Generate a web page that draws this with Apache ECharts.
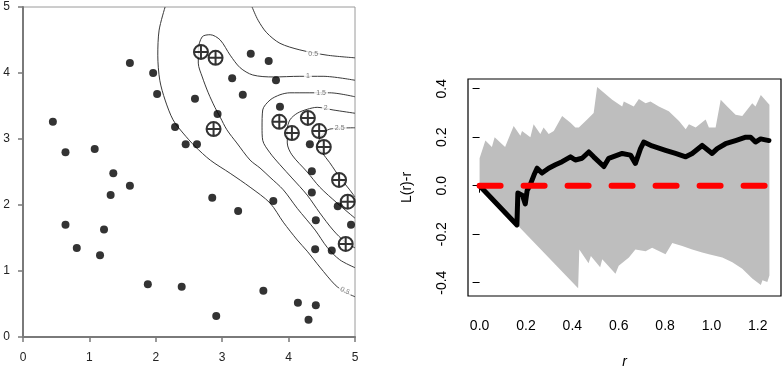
<!DOCTYPE html>
<html>
<head>
<meta charset="utf-8">
<script src="https://cdn.jsdelivr.net/npm/echarts@6/dist/echarts.min.js"></script>
<style>html,body{margin:0;padding:0;background:#fff}#c{width:784px;height:374px}</style>
</head>
<body>
<div id="c"></div>
<script>
// ---------- Left panel data ----------
const leftTicks = [0, 1, 2, 3, 4, 5];
const dots = [
  [0.45,3.26],[0.64,2.80],[1.08,2.85],[1.36,2.48],[1.61,2.29],[1.61,4.15],[1.96,4.00],
  [2.02,3.68],[2.29,3.18],[2.45,2.92],[2.62,2.92],[0.64,1.70],[0.81,1.35],[1.16,1.24],
  [1.22,1.63],[1.32,2.15],[1.88,0.80],[2.39,0.76],[3.43,4.29],[3.70,4.18],[3.15,3.92],
  [3.81,3.89],[2.59,3.61],[3.31,3.67],[2.93,3.38],[3.87,3.49],[4.32,2.92],[4.35,2.51],
  [4.74,1.98],[4.35,2.19],[4.41,1.77],[4.94,1.70],[4.40,1.33],[4.65,1.31],[2.85,2.11],
  [3.24,1.91],[3.77,2.06],[3.62,0.70],[4.14,0.52],[4.41,0.48],[4.30,0.26],[2.91,0.32]
];
const crossed = [
  [2.68,4.32],[2.90,4.23],[2.87,3.15],[3.86,3.26],[4.05,3.09],[4.29,3.32],
  [4.46,3.12],[4.53,2.88],[4.76,2.38],[4.89,2.05],[4.86,1.41]
];
const contour05a = [[2.14,5.0],[2.05,4.65],[2.03,4.27],[2.06,3.89],[2.14,3.59],[2.26,3.29],
  [2.41,3.09],[2.59,2.89],[2.82,2.68],[3.12,2.48],[3.42,2.27],[3.72,2.03],[3.92,1.74],
  [4.13,1.47],[4.28,1.30],[4.47,1.06],[4.70,0.79],[4.85,0.68],[5.0,0.61]];
const contour05b = [[3.45,5.0],[3.54,4.80],[3.67,4.61],[3.87,4.45],[4.17,4.35],[4.58,4.27],[5.0,4.23]];
const contour10 = [[5.0,3.89],[4.52,3.95],[4.17,3.95],[3.77,3.94],[3.46,3.97],[3.27,4.08],
  [3.12,4.27],[2.97,4.50],[2.82,4.58],[2.70,4.55],[2.64,4.35],[2.64,4.15],[2.70,3.94],
  [2.79,3.70],[2.89,3.48],[2.97,3.33],[3.07,3.14],[3.22,2.94],[3.42,2.68],[3.57,2.56],
  [3.72,2.42],[3.92,2.23],[4.13,1.95],[4.40,1.62],[4.58,1.36],[4.77,1.17],[5.0,1.05]];
const contour15 = [[5.0,3.64],[4.62,3.70],[4.32,3.70],[4.02,3.70],[3.87,3.67],[3.72,3.59],
  [3.61,3.44],[3.60,3.18],[3.61,2.98],[3.72,2.79],[3.87,2.61],[4.05,2.41],[4.28,2.15],
  [4.47,1.88],[4.67,1.62],[4.85,1.44],[5.0,1.35]];
const contour20 = [[5.0,3.39],[4.67,3.44],[4.43,3.48],[4.28,3.45],[4.13,3.39],[4.02,3.29],
  [3.98,3.14],[3.98,2.94],[4.05,2.76],[4.28,2.50],[4.47,2.27],[4.73,2.03],[5.0,1.80]];
const contour25 = [[5.0,3.17],[4.62,3.15],[4.50,3.06],[4.44,2.91],[4.50,2.80],[4.62,2.64],
  [4.77,2.42],[4.92,2.23],[5.0,2.12]];
const contourLabels = [
  {name:'0.5', value:[4.37,4.29], rot:0},
  {name:'1', value:[4.29,3.96], rot:0},
  {name:'1.5', value:[4.49,3.70], rot:0},
  {name:'2', value:[4.56,3.47], rot:0},
  {name:'2.5', value:[4.77,3.16], rot:0},
  {name:'0.5', value:[4.85,0.70], rot:-25}
];

// ---------- Right panel data ----------
const rTicks = [0, 0.2, 0.4, 0.6, 0.8, 1.0, 1.2];
const lTicks = [-0.4, -0.2, 0, 0.2, 0.4];
const envUpper = [[0,0.113],[0.025,0.186],[0.053,0.16],[0.065,0.20],[0.11,0.16],
  [0.147,0.246],[0.176,0.206],[0.183,0.226],[0.219,0.20],[0.233,0.253],[0.262,0.213],
  [0.276,0.24],[0.298,0.213],[0.32,0.226],[0.356,0.287],[0.392,0.26],[0.413,0.24],
  [0.428,0.24],[0.464,0.273],[0.492,0.30],[0.507,0.407],[0.572,0.354],[0.615,0.327],
  [0.622,0.347],[0.665,0.327],[0.687,0.357],[0.716,0.34],[0.737,0.347],[0.773,0.327],
  [0.816,0.307],[0.86,0.267],[0.889,0.233],[0.903,0.253],[0.932,0.24],[0.975,0.273],
  [0.989,0.24],[1.018,0.24],[1.04,0.354],[1.068,0.327],[1.104,0.293],[1.133,0.287],
  [1.155,0.314],[1.176,0.34],[1.19,0.327],[1.213,0.374],[1.25,0.334]];
const envLower = [[0,0],[0.425,-0.423],[0.43,-0.263],[0.47,-0.32],[0.48,-0.29],[0.52,-0.336],
  [0.529,-0.303],[0.586,-0.363],[0.6,-0.33],[0.644,-0.296],[0.672,-0.263],[0.716,-0.27],
  [0.744,-0.256],[0.802,-0.283],[0.831,-0.236],[0.874,-0.249],[0.917,-0.263],[0.96,-0.276],
  [0.989,-0.283],[1.047,-0.296],[1.09,-0.316],[1.133,-0.343],[1.176,-0.383],[1.213,-0.41],
  [1.22,-0.39],[1.241,-0.397],[1.25,-0.37]];
const observed = [[0,0],[0.161,-0.162],[0.165,-0.03],[0.185,-0.04],[0.197,-0.075],[0.205,-0.02],
  [0.219,0.005],[0.235,0.045],[0.248,0.072],[0.269,0.052],[0.298,0.072],[0.327,0.086],
  [0.356,0.099],[0.392,0.119],[0.413,0.106],[0.442,0.113],[0.471,0.139],[0.492,0.119],
  [0.536,0.079],[0.557,0.113],[0.615,0.133],[0.651,0.126],[0.672,0.092],[0.694,0.153],
  [0.708,0.18],[0.744,0.164],[0.802,0.146],[0.845,0.133],[0.889,0.119],[0.917,0.133],
  [0.96,0.166],[1.003,0.133],[1.025,0.153],[1.061,0.173],[1.104,0.186],[1.148,0.2],
  [1.169,0.2],[1.19,0.18],[1.212,0.193],[1.248,0.186]];
const theoretical = [[0,0],[1.25,0]];

const FONT = 'Liberation Sans, Arial, sans-serif';
const chart = echarts.init(document.getElementById('c'), null, {renderer:'canvas'});

function contourSeries(data){
  return {type:'line', xAxisIndex:0, yAxisIndex:0, data:data, showSymbol:false, smooth:0.3,
    lineStyle:{color:'#3a3a3a', width:1}, silent:true, z:2};
}

const option = {
  animation:false,
  backgroundColor:'#fff',
  grid:[
    {left:23, top:7, width:332, height:330, show:true, borderColor:'#9a9a9a', borderWidth:1},
    {left:468, top:79, width:313, height:222, show:true, borderColor:'#000', borderWidth:1.2}
  ],
  xAxis:[
    {type:'value', gridIndex:0, min:0, max:5, interval:1, splitLine:{show:false},
     axisLine:{show:true, lineStyle:{color:'#7a7a7a', width:2}},
     axisTick:{show:true, length:5, lineStyle:{color:'#7a7a7a', width:1.5}},
     axisLabel:{margin:15, fontSize:12, color:'#222', fontFamily:FONT}},
    {type:'value', gridIndex:1, min:-0.05, max:1.3, splitLine:{show:false},
     axisLine:{show:false},
     axisTick:{show:true, length:7, customValues:rTicks, lineStyle:{color:'#000', width:1}},
     axisLabel:{customValues:rTicks, formatter:v=>v.toFixed(1), margin:23, fontSize:14, color:'#000', fontFamily:FONT},
     name:'r', nameLocation:'middle', nameGap:59,
     nameTextStyle:{fontStyle:'italic', fontSize:14, color:'#000', fontFamily:FONT}}
  ],
  yAxis:[
    {type:'value', gridIndex:0, min:0, max:5, interval:1, splitLine:{show:false},
     axisLine:{show:true, lineStyle:{color:'#7a7a7a', width:2}},
     axisTick:{show:true, length:5, lineStyle:{color:'#7a7a7a', width:1.5}},
     axisLabel:{margin:13, fontSize:12, color:'#222', fontFamily:FONT}},
    {type:'value', gridIndex:1, min:-0.455, max:0.44, splitLine:{show:false},
     axisLine:{show:false},
     axisTick:{show:true, length:7, customValues:lTicks, lineStyle:{color:'#000', width:1}},
     axisLabel:{customValues:lTicks, formatter:v=>v.toFixed(1), rotate:90, margin:19, fontSize:14, color:'#000', fontFamily:FONT},
     name:'L(r)-r', nameLocation:'middle', nameGap:54,
     nameTextStyle:{fontSize:14, color:'#000', fontFamily:FONT}}
  ],
  series:[
    contourSeries(contour05a), contourSeries(contour05b), contourSeries(contour10),
    contourSeries(contour15), contourSeries(contour20), contourSeries(contour25),
    {type:'scatter', xAxisIndex:0, yAxisIndex:0, symbolSize:0.1, silent:true, z:3,
     data:contourLabels.map(d=>({name:d.name, value:d.value,
       label:{rotate:d.rot}})),
     label:{show:true, position:'inside', formatter:p=>p.name, fontSize:7, color:'#555',
       fontFamily:FONT, backgroundColor:'#fff', padding:[0,2]}},
    {type:'scatter', xAxisIndex:0, yAxisIndex:0, data:dots, symbol:'circle', symbolSize:8,
     itemStyle:{color:'#000'}, silent:true, z:4},
    {type:'scatter', xAxisIndex:0, yAxisIndex:0, data:crossed,
     symbol:'path://M2,12A10,10 0 1,1 22,12A10,10 0 1,1 2,12ZM2,12L22,12M12,2L12,22',
     symbolSize:14, itemStyle:{color:'#fff', borderColor:'#000', borderWidth:2}, silent:true, z:5},
    {type:'custom', xAxisIndex:1, yAxisIndex:1, data:[[0,0]], silent:true, z:1,
     renderItem:function(params, api){
       const pts = envUpper.map(p=>api.coord(p)).concat(envLower.slice().reverse().map(p=>api.coord(p)));
       return {type:'polygon', shape:{points:pts}, style:{fill:'#BEBEBE'}};
     }},
    {type:'line', xAxisIndex:1, yAxisIndex:1, data:observed, showSymbol:false,
     lineStyle:{color:'#000', width:5, join:'round', cap:'round'}, silent:true, z:3},
    {type:'line', xAxisIndex:1, yAxisIndex:1, data:theoretical, showSymbol:false,
     lineStyle:{color:'#FF0000', width:6, type:[21,23], cap:'round'}, silent:true, z:4}
  ]
};
chart.setOption(option);
</script>
</body>
</html>
